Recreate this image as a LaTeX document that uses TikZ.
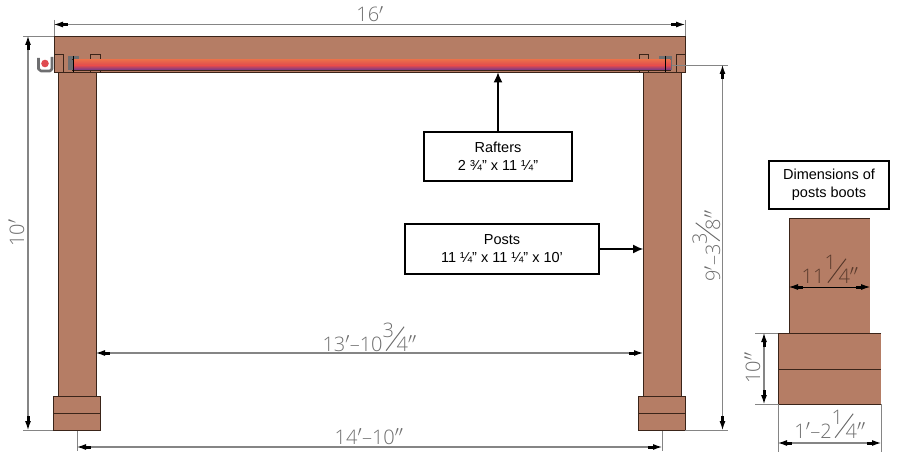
\documentclass[tikz,border=0pt]{standalone}
\usepackage{fontspec}
\setmainfont{Liberation Sans}
\newfontfamily\cadfont{Open Sans Light}
\usetikzlibrary{arrows.meta}
\definecolor{wood}{HTML}{B57D65}
\definecolor{woodline}{HTML}{3A2419}
\definecolor{dimgray}{HTML}{858585}
\definecolor{dimtext}{HTML}{6E6E6E}
\definecolor{raftertop}{HTML}{EA6B4A}
\definecolor{raftermid}{HTML}{DF4A50}
\definecolor{rafterbot}{HTML}{7A3A86}
\definecolor{bootgray}{HTML}{6E6E70}
\newcommand{\cadfrac}[2]{\rlap{\raisebox{.66em}{#1}}\kern.15em\rlap{\rotatebox{53}{\rule{1.5em}{.05em}}}\kern.55em#2}
\tikzset{
	wood part/.style = {fill=wood, draw=woodline, line width=.9pt},
	dim line/.style = {draw=dimgray, line width=1.1pt, {Latex[length=9pt,width=6pt,black] Rectangle[length=5pt,width=3pt,black]}-{Rectangle[length=5pt,width=3pt,black] Latex[length=9pt,width=6pt,black]}},
	ext line/.style = {draw=dimgray, line width=.7pt},
	dim label/.style = {text=dimtext, font=\cadfont\fontsize{20}{20}\selectfont, inner sep=0pt, anchor=base},
	call box/.style = {draw=black, fill=white, line width=1.1pt, align=center, inner sep=0pt, font=\fontsize{14.5}{18}\selectfont},
	call arrow/.style = {draw=black, line width=1.1pt, -{Latex[length=10pt,width=9pt]}},
}
\begin{document}
\begin{tikzpicture}[x=1pt, y=-1pt]
	\useasboundingbox (0,0) rectangle (900,460);
	% beam
	\draw[wood part] (54,36.5) rectangle (685,72.5);
	\foreach \x in {54,90.5,639,676} {
		\draw[draw=woodline, line width=.5pt] (\x,72) -- (\x,54) -- (\x+9.5,54) -- (\x+9.5,72);
	}
	% hangers
	\fill[bootgray] (68,56) rectangle (79,70);
	\fill[bootgray] (659,56) rectangle (672,70);
	% rafter
	\draw[draw=woodline, line width=.5pt] (72,59.5) -- (671,59.5);
	\shade[top color=raftertop, bottom color=raftermid] (73,60) rectangle (670.5,65.5);
	\shade[top color=raftermid, bottom color=rafterbot] (73,65.5) rectangle (670.5,69.5);
	\draw[draw=woodline, line width=.6pt] (72,70) -- (671,70);
	\draw[black, line width=1pt] (73,56) -- (73,72);
	\draw[black, line width=1pt] (665,56) -- (665,72);
	\fill[raftermid] (45,63.5) circle (3.8);
	\draw[bootgray, line width=2.6pt, line join=round] (38.5,58) -- (38.5,69) -- (41,71) -- (50,71) -- (52,69) -- (52,57);
	% posts and boots
	\foreach \x in {58,643} {
		\draw[wood part] (\x,72.5) rectangle (\x+38,396);
		\draw[wood part] (\x-5,396) rectangle (\x+42,430);
		\draw[woodline, line width=.9pt] (\x-5,413) -- (\x+42,413);
	}
	% boot detail
	\fill[wood] (789,218) rectangle (870,333);
	\fill[wood] (778,333) rectangle (881,404);
	\draw[woodline, line width=.7pt] (789,333) -- (789,218) -- (870,218);
	\draw[woodline, line width=.7pt] (881,333) -- (778,333) -- (778,404) -- (881,404);
	\draw[woodline, line width=.4pt] (778,369) -- (881,369);
	% extension lines
	\draw[ext line] (54,20) -- (54,36) (685,20) -- (685,36);
	\draw[ext line] (23,36) -- (54,36) (23,430) -- (53,430);
	\draw[ext line] (672,65) -- (728,65) (685,430) -- (728,430);
	\draw[ext line] (77,431) -- (77,451) (662,431) -- (662,451);
	\draw[ext line] (755,333) -- (778,333) (755,404) -- (778,404);
	\draw[ext line] (778,404) -- (778,452) (881,404) -- (881,452);
	% dimension ends
	\coordinate (topl) at (54,24.5);
	\coordinate (topr) at (685,24.5);
	\coordinate (heightt) at (28,36);
	\coordinate (heightb) at (28,430);
	\coordinate (cleart) at (722.5,65);
	\coordinate (clearb) at (722.5,430);
	\coordinate (innerl) at (96,353);
	\coordinate (innerr) at (643,353);
	\coordinate (spanl) at (77,447);
	\coordinate (spanr) at (662,447);
	\coordinate (postl) at (789,287);
	\coordinate (postr) at (870,287);
	\coordinate (boott) at (764,333);
	\coordinate (bootb) at (764,404);
	\coordinate (bootl) at (778,443);
	\coordinate (bootr) at (881,443);
	\foreach \a/\b in {topl/topr, heightt/heightb, cleart/clearb, innerl/innerr, spanl/spanr, boott/bootb, bootl/bootr} {
		\draw[dim line] (\a) -- (\b);
	}
	\draw[dim line, line width=.8pt, draw=black] (postl) -- (postr);
	% dimension texts
	\node[dim label] (wholewidth) at (370,22) {16$'$};
	\node[dim label, rotate=90] (wholeheight) at (24,233) {10$'$};
	\node[dim label, rotate=90] (clearheight) at (720,246) {9$'$–3\cadfrac{3}{8}$''$};
	\node[dim label] (innerspan) at (369.5,351) {13$'$–10\cadfrac{3}{4}$''$};
	\node[dim label] (outerspan) at (369,444) {14$'$–10$''$};
	\node[dim label, text=woodline!75!wood] (postsize) at (830,283) {11\cadfrac{1}{4}$''$};
	\node[dim label, rotate=90] (bootheight) at (760,368) {10$''$};
	\node[dim label] (bootsize) at (830,438) {1$'$–2\cadfrac{1}{4}$''$};
	% callouts
	\node[call box, minimum width=148pt, minimum height=49pt] (rafterbox) at (498,156.5) {Rafters\\2 ¾" x 11 ¼"};
	\node[call box, minimum width=194pt, minimum height=50pt] (postbox) at (502,249) {Posts\\11 ¼" x 11 ¼" x 10'};
	\node[call box, minimum width=120pt, minimum height=48pt] (bootbox) at (829,185) {Dimensions of\\posts boots};
	\coordinate (rafterend) at (498,72.5);
	\coordinate (postend) at (643,249);
	\draw[call arrow] (rafterbox) -- (rafterend);
	\draw[call arrow] (postbox) -- (postend);
\end{tikzpicture}
\end{document}
